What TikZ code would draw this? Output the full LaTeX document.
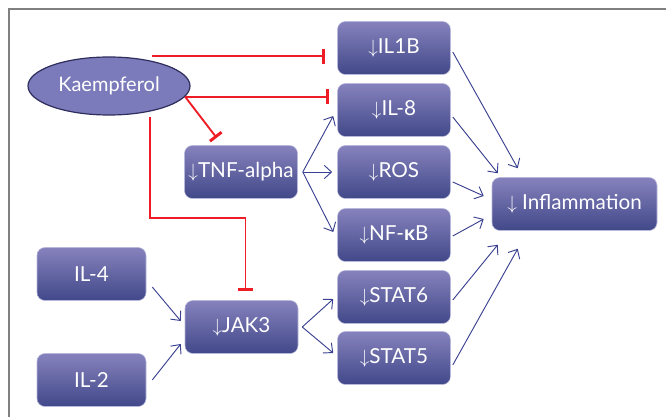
\documentclass[tikz,border=0pt]{standalone}
\usepackage{fontspec}
\setmainfont{Lato}
\usetikzlibrary{arrows.meta,shapes.geometric}

\definecolor{boxtop}{HTML}{8682BE}
\definecolor{boxbot}{HTML}{414889}
\definecolor{boxline}{HTML}{B8B8DA}
\definecolor{ovalfill}{HTML}{7B7BBB}
\definecolor{ovalline}{HTML}{2E2D5C}
\definecolor{inhib}{HTML}{EE1C25}
\definecolor{actv}{HTML}{3A4190}

\tikzset{
    factor/.style={draw=boxline, line width=0.4pt, rounded corners=6pt,
        top color=boxtop, bottom color=boxbot, text=white,
        minimum width=84.75pt, minimum height=39.75pt, inner sep=0pt,
        font=\fontsize{15.5}{18}\selectfont},
    compound/.style={ellipse, draw=ovalline, line width=0.9pt, fill=ovalfill,
        text=white, minimum width=121.5pt, minimum height=43.5pt, inner sep=0pt,
        font=\fontsize{15}{18}\selectfont},
    activates/.style={draw=actv, line width=0.7pt, -{Straight Barb[length=5.5pt,width=10pt]}},
    inhibits/.style={draw=inhib, line width=1.4pt, -{Bar[width=11pt,line width=2.2pt]}}
}
\newcommand{\dn}{$\downarrow$}

\begin{document}
\begin{tikzpicture}[x=0.75pt, y=-0.75pt]
    \useasboundingbox (0,0) rectangle (666,417);
    \draw [gray, line width=1.2pt] (9,417) -- (9,9) -- (666,9);

    % nodes
    \node [compound] (kaem) at (109,86) {Kaempferol};
    \node [factor] (il1b) at (394,48) {\dn IL1B};
    \node [factor] (il8) at (394,110) {\dn IL-8};
    \node [factor] (tnf) at (241,172) {\dn TNF-alpha};
    \node [factor] (ros) at (394,172) {\dn ROS};
    \node [factor] (nfkb) at (394,235) {\dn NF-\textbf{κ}B};
    \node [factor, minimum width=123.75pt] (infl) at (574.5,204) {\dn\ Inflammation};
    \node [factor, minimum width=81.75pt] (il4) at (91.5,274) {IL-4};
    \node [factor] (jak3) at (241.5,327) {\dn JAK3};
    \node [factor] (stat6) at (394,297) {\dn STAT6};
    \node [factor] (stat5) at (394,358) {\dn STAT5};
    \node [factor, minimum width=81.75pt] (il2) at (91.5,380) {IL-2};

    % inhibition
    \draw [inhibits, shorten >=9pt] ([xshift=32.25pt]kaem.north) -- (kaem.north -| il1b.west);
    \draw [inhibits, shorten >=6pt] (kaem.-8) -- (kaem.-8 -| il8.west);
    \draw [inhibits, shorten >=7pt] (kaem.-8) -- ([xshift=-14pt]tnf.north);
    \draw [inhibits, shorten >=6.75pt] ([xshift=30.75pt,yshift=-1pt]kaem.south) -- ++(0,101) -| ([xshift=3pt]jak3.north);

    % activation, left side
    \draw [activates] ([xshift=3.75pt]tnf.east) -- ([xshift=-3pt,yshift=-4.5pt]il8.west);
    \draw [activates] ([xshift=3.75pt]tnf.east) -- ([xshift=-3.75pt]ros.west);
    \draw [activates] ([xshift=3.75pt]tnf.east) -- ([xshift=-3pt,yshift=2.25pt]nfkb.west);
    \draw [activates] ([xshift=3pt]jak3.east) -- ([xshift=-3pt,yshift=-1.5pt]stat6.west);
    \draw [activates] ([xshift=3pt]jak3.east) -- ([xshift=-3pt,yshift=3.75pt]stat5.west);
    \draw [activates] ([xshift=4.5pt,yshift=-9.75pt]il4.east) -- ([xshift=-3pt,yshift=4.5pt]jak3.west);
    \draw [activates] ([xshift=4.5pt]il2.east) -- ([xshift=-3pt,yshift=-12.75pt]jak3.west);

    % activation, into inflammation
    \draw [activates] ([xshift=1.5pt,yshift=-3pt]il1b.east) -- ([xshift=19.5pt,yshift=6.75pt]infl.north west);
    \draw [activates] ([xshift=1.5pt,yshift=-5.25pt]il8.east) -- ([xshift=4.5pt,yshift=3pt]infl.north west);
    \draw [activates] ([xshift=1.5pt,yshift=-7.5pt]ros.east) -- ([xshift=-6pt,yshift=6pt]infl.west);
    \draw [activates] ([xshift=1.5pt,yshift=-0.75pt]nfkb.east) -- ([xshift=-6pt,yshift=-11.25pt]infl.west);
    \draw [activates] ([xshift=1.5pt,yshift=-2.25pt]stat6.east) -- ([xshift=4.5pt,yshift=-10.5pt]infl.south west);
    \draw [activates] ([xshift=1.5pt,yshift=-5.25pt]stat5.east) -- ([xshift=19.5pt,yshift=-13.5pt]infl.south west);
\end{tikzpicture}
\end{document}
